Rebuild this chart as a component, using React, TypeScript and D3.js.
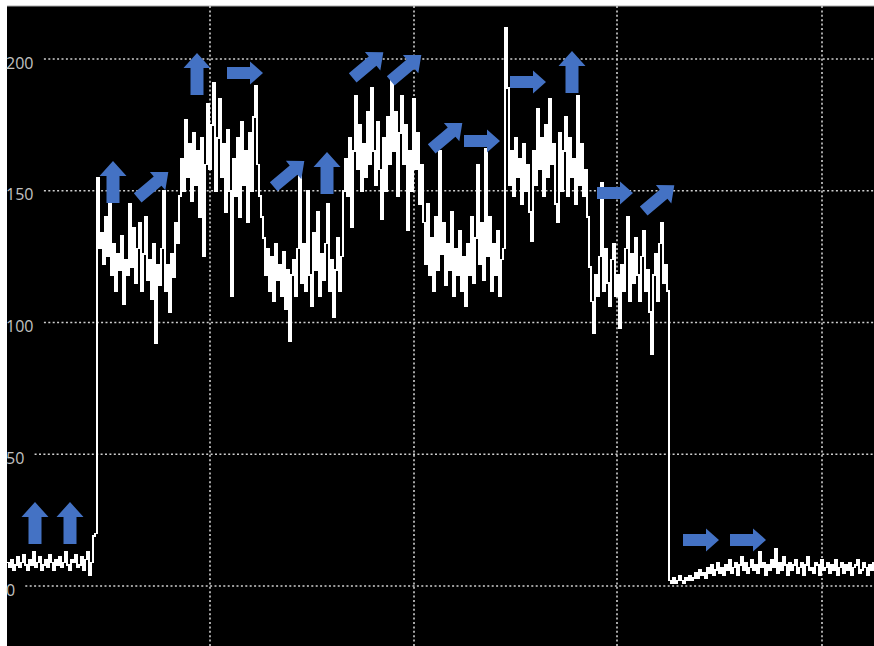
import React from 'react';
import * as d3 from 'd3';

const idleStart = [
  9, 7, 10, 6, 8, 11, 7, 9, 12, 8, 6, 10, 8, 13, 7, 9, 11, 6, 8, 10, 7, 12, 9,
  6, 10, 8, 11, 7, 9, 13, 8, 6, 10, 9, 12, 7, 8, 11, 6, 10, 13, 4, 9, 19, 20,
];
const stage1 = [
  155, 128, 134, 122, 140, 125, 146, 118, 130, 112, 126, 120, 133, 107, 124, 118, 145, 121, 136, 115,
  128, 138, 112, 126, 140, 116, 124, 109, 130, 92, 122, 114, 128, 150, 112, 122, 104, 126, 117, 138, 130,
];
const stage2 = [
  148, 162, 150, 177, 155, 168, 146, 172, 152, 165, 140, 170, 125, 160, 183, 158, 175, 191, 150, 170,
  185, 155, 168, 142, 173, 150, 110, 162, 148, 170, 140, 176, 152, 165, 138, 172, 150, 178, 190, 160, 148, 140,
];
const stage3 = [
  132, 118, 128, 112, 125, 108, 130, 116, 122, 110, 127, 105, 120, 93, 118, 124, 110, 128, 157, 115,
  130, 112, 150, 118, 106, 134, 120, 142, 110, 126, 116, 130, 145, 112, 124, 102, 120, 132, 112, 125,
];
const stage4 = [
  150, 162, 148, 170, 136, 165, 186, 158, 175, 150, 168, 155, 180, 160, 189, 165, 152, 176, 158, 139,
  170, 150, 178, 160, 193, 165, 180, 148, 172, 186, 160, 175, 135, 165, 150, 185, 158, 172, 145, 160,
];
const stage5 = [
  138, 122, 145, 118, 132, 112, 140, 120, 165, 126, 138, 114, 130, 120, 142, 110, 128, 118, 135, 112,
  125, 106, 130, 118, 140, 115, 132, 160, 122, 138, 116, 166, 125, 140, 112, 130, 118, 135, 110, 124, 128,
];
const burst = [212];
const stage6 = [
  189, 152, 165, 148, 170, 155, 162, 145, 168, 150, 160, 142, 131, 165, 152, 181, 158, 170, 148, 175,
  155, 185, 160, 168, 145, 138, 172, 150, 165, 178, 148, 170, 155, 162, 145, 186, 152, 168, 148, 158, 140,
];
const stage7 = [
  121, 108, 96, 118, 110, 125, 153, 112, 128, 115, 106, 124, 130, 110, 118, 98, 122, 112, 128, 140,
  108, 126, 115, 132, 118, 108, 125, 135, 112, 120, 104, 88, 118, 126, 108, 130, 138, 115, 122, 112,
];
const idleEnd = [
  2, 1, 3, 1, 2, 4, 2, 1, 3, 2,
  4, 2, 3, 5, 3, 6, 4, 5, 3, 7,
  5, 8, 4, 6, 9, 5, 7, 4, 8, 6,
  10, 5, 7, 9, 4, 8, 11, 6, 9, 5,
  7, 10, 6, 8, 5, 13, 7, 9, 4, 8,
  6, 10, 7, 14, 5, 9, 6, 11, 8, 4,
  9, 6, 8, 10, 5, 7, 9, 4, 8, 11,
  6, 7, 5, 9, 8, 4, 10, 6, 7, 9,
  5, 8, 6, 10, 4, 7, 9, 5, 8, 6,
  9, 4, 7, 8, 10, 5, 6, 9, 7, 4,
  8, 6, 9,
];

const trace = [
  ...idleStart, ...stage1, ...stage2, ...stage3, ...stage4,
  ...stage5, ...burst, ...stage6, ...stage7, ...idleEnd,
];

const yTicks = [0, 50, 100, 150, 200];
const xGrid = [101.5, 203.5, 305, 407.5]; // in sample units

// annotation arrows: position in sample index / value, and direction
const arrowIdx = [14, 31.5, 53, 73, 95, 119, 141, 160, 180.5, 199.5, 220, 237.5, 260.5, 282.5, 304, 326, 347, 370.5];
const arrowVal = [23.9, 23.9, 153.3, 152.2, 194.3, 194.7, 156.4, 156.7, 197.7, 196.6, 170.8, 168.9, 191.3, 195.1, 149.1, 147.2, 17.5, 17.5];
const arrowDir = ['up', 'up', 'up', 'diag', 'up', 'right', 'diag', 'up', 'diag', 'diag', 'diag', 'right', 'right', 'up', 'right', 'diag', 'right', 'right'];

const W = 874;
const H = 646;

const arrowShapes = {
  up: { rot: -90, len: 42, head: 15, headW: 27, shaftW: 13 },
  right: { rot: 0, len: 36, head: 13, headW: 23, shaftW: 12 },
  diag: { rot: -40, len: 40, head: 14, headW: 24, shaftW: 12 },
};

const arrowPath = ({ len, head, headW, shaftW }) => {
  const x0 = -len / 2, x1 = len / 2 - head, x2 = len / 2;
  return `M${x0},${-shaftW / 2}L${x1},${-shaftW / 2}L${x1},${-headW / 2}L${x2},0L${x1},${headW / 2}L${x1},${shaftW / 2}L${x0},${shaftW / 2}Z`;
};

export default function App() {
  const x = d3.scaleLinear().domain([0, trace.length - 1]).range([7, 873]);
  const y = d3.scaleLinear().domain([0, 200]).range([586, 59]);

  // the recorder draws a stepped trace
  const line = d3.line<number>()
    .curve(d3.curveStepAfter)
    .x((d, i) => x(i))
    .y(d => y(d));

  return (
    <div style={{ position: 'absolute', left: 0, top: 0 }}>
      <svg width={W} height={H} style={{ display: 'block', background: '#fff' }}>
        <rect x={7} y={6} width={W - 7} height={H - 6} fill="#000" />
        <line x1={7} x2={W} y1={6} y2={6} stroke="#aaa" strokeWidth={1} />

        {/* grid */}
        {xGrid.map(t => (
          <line key={'vx' + t} x1={x(t)} x2={x(t)} y1={6} y2={H}
            stroke="#d0d0d0" strokeWidth={1.6} strokeDasharray="2 2.4" />
        ))}
        {yTicks.map(t => {
          const label = String(t);
          return (
            <g key={'gy' + t}>
              <line x1={6 + label.length * 9.3 + 10} x2={W} y1={y(t)} y2={y(t)}
                stroke="#d0d0d0" strokeWidth={1.6} strokeDasharray="2 2.4" />
              <text x={6} y={y(t) + 9.5} fill="#c2c2c2"
                style={{ fontFamily: '"Open Sans", sans-serif', fontSize: 16 }}>
                {label}
              </text>
            </g>
          );
        })}

        {/* trace */}
        <path d={line(trace) || ''} fill="none" stroke="#fff" strokeWidth={1.5}
          shapeRendering="crispEdges" />

        {/* arrows */}
        {arrowIdx.map((a, i) => {
          const s = arrowShapes[arrowDir[i]];
          return (
            <path key={'ar' + i} d={arrowPath(s)} fill="#4472c4"
              transform={`translate(${x(a)},${y(arrowVal[i])}) rotate(${s.rot})`} />
          );
        })}
      </svg>
    </div>
  );
}
